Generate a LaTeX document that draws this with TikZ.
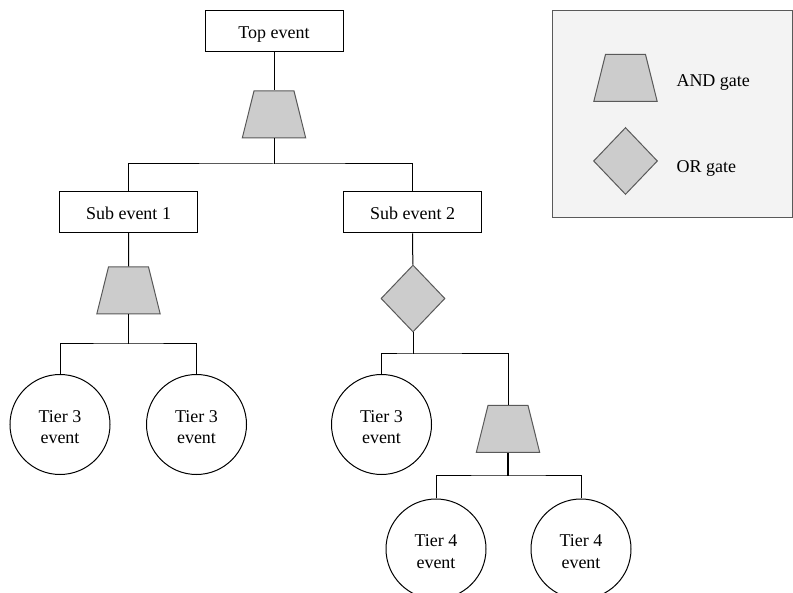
\documentclass[tikz,border=0pt]{standalone}
\usepackage{fontspec}
\setmainfont{Liberation Serif}
\usetikzlibrary{shapes.geometric}
\definecolor{gatefill}{HTML}{CCCCCC}
\definecolor{gateline}{HTML}{595959}
\definecolor{legendfill}{HTML}{F3F3F3}

\tikzset{
  event/.style={draw, line width=1pt, minimum width=138, minimum height=41, inner sep=0pt, text height=15, text depth=0, font=\fontsize{18}{21}\selectfont},
  basic/.style={draw, circle, line width=1pt, minimum size=100, inner sep=0pt, align=center, text height=38, text depth=0, font=\fontsize{18}{21}\selectfont},
  andgate/.style={draw=gateline, fill=gatefill, trapezium, trapezium angle=76, text width=40, text height=47, text depth=0, inner sep=0pt, line width=1pt},
  orgate/.style={draw=gateline, fill=gatefill, diamond, minimum width=64, minimum height=67, inner sep=0pt, line width=1pt},
  keytext/.style={anchor=base west, inner sep=0pt, font=\fontsize{18}{21}\selectfont}
}

\begin{document}
\begin{tikzpicture}[x=1pt, y=-1pt, line width=1pt]

\useasboundingbox (0,0) rectangle (793,593);

% legend
\node [draw=gateline, fill=legendfill, minimum width=240, minimum height=207, inner sep=0pt] (legend) at (672,114.5) {};
\node [andgate] (keyand) at (625.5,78) {};
\node [keytext] (keyandtxt) at (676,86.5) {AND gate};
\node [orgate] (keyor) at (625.5,161) {};
\node [keytext] (keyortxt) at (676,173) {OR gate};

% top of the tree
\node [event] (top) at (274,31.5) {Top event};
\node [andgate] (g0) at (274,114.5) {};
\node [event] (sub1) at (128.5,212) {Sub event 1};
\node [event] (sub2) at (412.5,212.5) {Sub event 2};

\coordinate (b0) at (274,164);
\draw (top) -- (g0);
\draw (g0.south) -- (b0);
\draw (sub1.north) |- (b0) -| (sub2.north);

% left branch
\node [andgate] (g1) at (128.5,290.5) {};
\node [basic] (t31) at (60,424.5) {Tier 3\\event};
\node [basic] (t32) at (196.5,424.5) {Tier 3\\event};

\coordinate (b1) at (128.5,344);
\draw (sub1) -- (g1);
\draw (g1.south) -- (b1);
\draw (t31.north) |- (b1) -| (t32.north);

% right branch
\node [orgate] (g2) at (413,298.5) {};
\node [basic] (t33) at (381.5,424.5) {Tier 3\\event};
\node [andgate] (g3) at (508,429) {};

\coordinate (b2) at (413,354);
\draw (sub2) -- (g2);
\draw (g2.south) -- (b2);
\draw (t33.north) |- (b2) -| (g3.north);

% tier 4
\node [basic] (t41) at (436,549) {Tier 4\\event};
\node [basic] (t42) at (581,549) {Tier 4\\event};

\coordinate (b3) at (508,476);
\draw [line width=2pt] (g3.south) -- (b3);
\draw (t41.north) |- (b3) -| (t42.north);

\end{tikzpicture}
\end{document}
